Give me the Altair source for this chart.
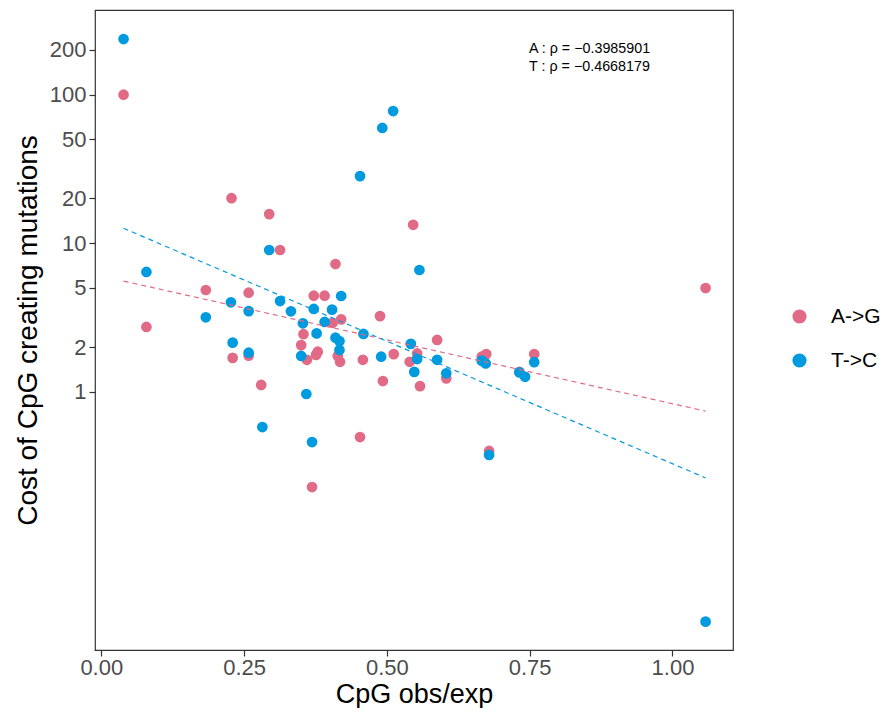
import altair as alt
import pandas as pd

# A->G series
ag_x = [0.039, 0.079, 0.183, 0.228, 0.230, 0.258, 0.258, 0.280, 0.294, 0.313,
        0.350, 0.354, 0.360, 0.369, 0.372, 0.379, 0.376, 0.391, 0.405, 0.410,
        0.414, 0.418, 0.420, 0.453, 0.458, 0.488, 0.493, 0.512, 0.546, 0.540,
        0.553, 0.558, 0.588, 0.604, 0.666, 0.674, 0.679, 0.732, 0.758, 1.058]
ag_y = [100, 2.73, 4.84, 20.1, 1.69, 4.64, 1.75, 1.11, 15.7, 9.00,
        2.06, 2.44, 1.64, 0.228, 4.43, 1.86, 1.77, 4.43, 2.91, 7.24,
        1.74, 1.59, 3.07, 0.495, 1.64, 3.23, 1.18, 1.79, 13.3, 1.59,
        1.81, 1.09, 2.23, 1.23, 1.72, 1.79, 0.399, 1.36, 1.79, 4.99]

# T->C series
tc_x = [0.039, 0.079, 0.183, 0.227, 0.230, 0.258, 0.258, 0.282, 0.294, 0.313,
        0.332, 0.353, 0.350, 0.359, 0.369, 0.372, 0.377, 0.391, 0.404, 0.410,
        0.417, 0.417, 0.420, 0.453, 0.459, 0.490, 0.492, 0.511, 0.542, 0.548,
        0.553, 0.557, 0.588, 0.604, 0.666, 0.673, 0.679, 0.732, 0.742, 0.758,
        1.058]
tc_y = [237, 6.40, 3.17, 4.00, 2.14, 3.49, 1.83, 0.578, 9.00, 4.08,
        3.48, 2.89, 1.74, 0.965, 0.458, 3.61, 2.47, 2.95, 3.57, 2.31,
        2.19, 1.91, 4.41, 28.3, 2.45, 1.72, 59.7, 77.6, 2.10, 1.36,
        1.66, 6.60, 1.64, 1.33, 1.62, 1.55, 0.375, 1.35, 1.26, 1.58,
        0.0283]

series_names = ["A->G", "T->C"]
series_colors = ["#E16A86", "#009ADE"]

note_x = [0.749, 0.749]
note_y = [203, 153]
note_text = ["A : ρ = −0.3985901", "T : ρ = −0.4668179"]

x_ticks = [0.0, 0.25, 0.5, 0.75, 1.0]
y_ticks = [1, 2, 5, 10, 20, 50, 100, 200]

df = pd.concat([
    pd.DataFrame({"x": ag_x, "y": ag_y, "series": series_names[0]}),
    pd.DataFrame({"x": tc_x, "y": tc_y, "series": series_names[1]}),
], ignore_index=True)

notes = pd.DataFrame({"x": note_x, "y": note_y, "label": note_text})

FONT = "Liberation Sans"

xscale = alt.Scale(domain=[-0.011, 1.106], nice=False, zero=False)
yscale = alt.Scale(type="log", domain=[0.01823, 371.8], nice=False)
cscale = alt.Scale(domain=series_names, range=series_colors)

xenc = alt.X("x:Q", scale=xscale,
             axis=alt.Axis(values=x_ticks, format=".2f", title="CpG obs/exp"))
yenc = alt.Y("y:Q", scale=yscale,
             axis=alt.Axis(values=y_ticks, format="d",
                           title="Cost of CpG creating mutations"))

points = alt.Chart(df).mark_circle(size=115, opacity=1).encode(
    x=xenc,
    y=yenc,
    color=alt.Color("series:N", scale=cscale,
                    legend=alt.Legend(title=None, orient="none",
                                      legendX=694, legendY=296,
                                      symbolSize=160, symbolType="circle",
                                      labelFontSize=21, labelFont=FONT,
                                      labelColor="black", labelOffset=21,
                                      rowPadding=22, symbolOpacity=1)),
)

lines = alt.Chart(df).transform_calculate(
    ly="log(datum.y)/LN10"
).transform_regression(
    "x", "ly", groupby=["series"]
).transform_calculate(
    y="pow(10, datum.ly)"
).mark_line(strokeDash=[5, 4], strokeWidth=1.2).encode(
    x=alt.X("x:Q", scale=xscale),
    y=alt.Y("y:Q", scale=yscale),
    color=alt.Color("series:N", scale=cscale),
)

text = alt.Chart(notes).mark_text(
    align="left", baseline="middle", fontSize=14.3, font=FONT, color="black"
).encode(
    x=alt.X("x:Q", scale=xscale),
    y=alt.Y("y:Q", scale=yscale),
    text="label:N",
)

chart = alt.layer(points, lines, text).properties(
    width=638, height=640,
    autosize=alt.AutoSizeParams(type="none"),
    padding={"left": 87, "top": 2, "right": 148, "bottom": 58},
).configure_view(
    stroke="#333333", strokeWidth=1.2
).configure_axis(
    grid=False, domain=False,
    labelFont=FONT, labelFontSize=22, labelColor="#4D4D4D",
    tickColor="#333333", tickWidth=1.2, tickSize=6, labelPadding=3,
    titleFont=FONT, titleFontSize=28, titleFontWeight="normal", titleColor="black",
).configure_axisY(titlePadding=7).configure_axisX(titlePadding=3, labelPadding=1, titleFontSize=27)

chart.save("out.html", embed_options={"renderer": "svg", "actions": False})
